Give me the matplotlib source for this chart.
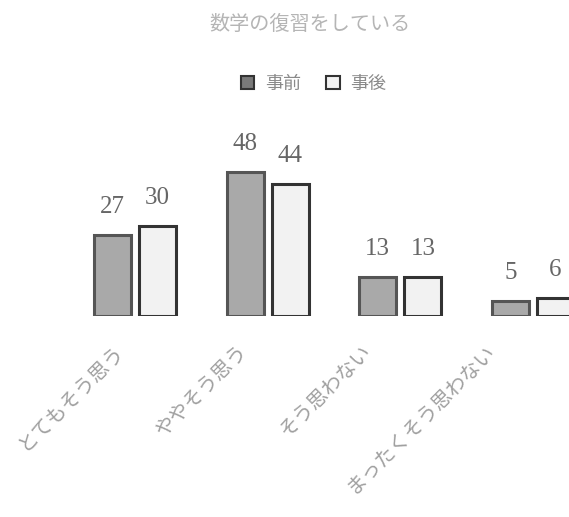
import matplotlib.pyplot as plt
import numpy as np
from matplotlib.patches import Patch
from matplotlib.transforms import offset_copy

plt.rcParams['font.family'] = ['Noto Sans CJK JP', 'DejaVu Sans']

title = "数学の復習をしている"
categories = ["とてもそう思う", "ややそう思う", "そう思わない", "まったくそう思わない"]
series_names = ["事前", "事後"]
before = [27, 48, 13, 5]
after = [30, 44, 13, 6]

fig = plt.figure(figsize=(5.69, 5.17), dpi=100)
# axes deliberately runs past the right edge, like the scanned original
ax = fig.add_axes([0, 0.389, 1, 0.418])

x = np.arange(len(categories))
w = 0.28
off = 0.17
b1 = ax.bar(x - off, before, w, color='#a9a9a9', edgecolor='#555555', linewidth=2.2)
b2 = ax.bar(x + off, after, w, color='#f2f2f2', edgecolor='#333333', linewidth=2.2)

for bars in (b1, b2):
    for rect in bars:
        ax.annotate(f"{int(rect.get_height())}",
                    (rect.get_x() + rect.get_width() / 2, rect.get_height()),
                    xytext=(0, 12), textcoords='offset points',
                    ha='center', va='bottom', fontsize=18,
                    family='Liberation Serif', color='#666666')

ax.set_xlim(-1.017, 3.271)
ax.set_ylim(0, 72)
ax.axis('off')

# rotated category labels under the bars
for i, cat in enumerate(categories):
    tr = offset_copy(ax.transData, fig=fig, x=-14 - 9 * i, y=-32, units='dots')
    ax.text(i, 0, cat, transform=tr, rotation=45, rotation_mode='anchor',
            ha='right', va='center', fontsize=14.5, color='#a0a0a0')

fig.text(0.545, 0.952, title, ha='center', va='center', fontsize=14.5,
         color='#b5b5b5')

handles = [Patch(facecolor='#7a7a7a', edgecolor='#333333', linewidth=1.5, label=series_names[0]),
           Patch(facecolor='#f2f2f2', edgecolor='#333333', linewidth=1.5, label=series_names[1])]
fig.legend(handles=handles, loc='center', bbox_to_anchor=(0.551, 0.838), ncol=2,
           frameon=False, fontsize=13, labelcolor='#8a8a8a',
           handlelength=0.75, handleheight=0.75, handletextpad=0.6, columnspacing=1.4)

fig.savefig('out.png', dpi=100)
